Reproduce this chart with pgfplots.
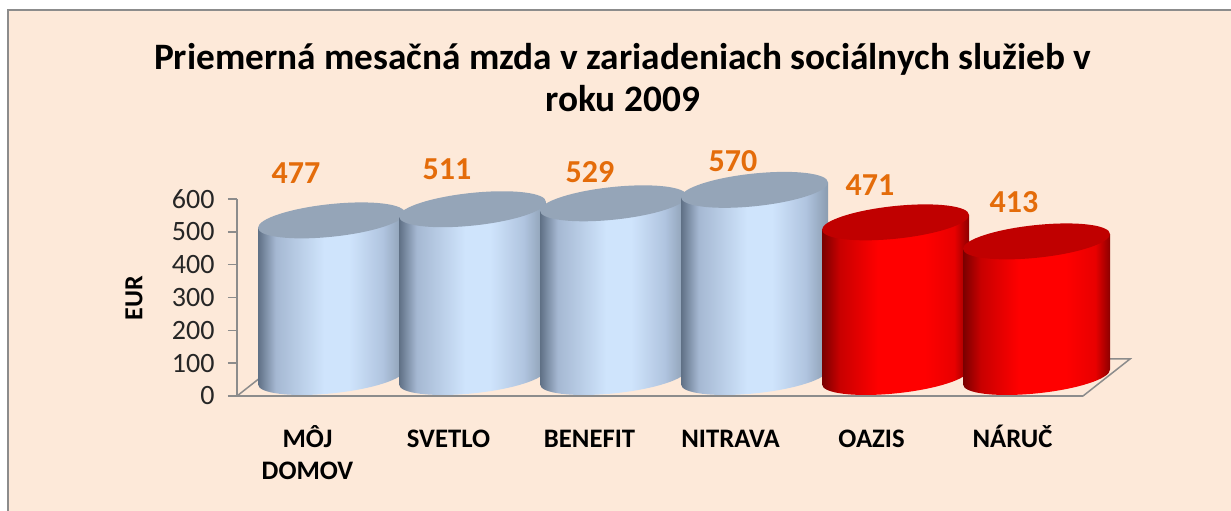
\documentclass[border=0pt]{standalone}
\usepackage{fontspec}
\setmainfont{Carlito}
\usepackage{pgfplots}
\pgfplotsset{compat=1.18}
\definecolor{panel}{HTML}{FDE9D9}
\definecolor{axisgray}{HTML}{8C8C8C}
\definecolor{orangeval}{HTML}{E46C0A}
\definecolor{bluetop}{HTML}{95A5B8}
\definecolor{redtop}{HTML}{C00000}
\definecolor{b0}{HTML}{5F7085}\definecolor{b1}{HTML}{A5B8D2}\definecolor{b2}{HTML}{CFE4FC}\definecolor{b3}{HTML}{B0C4DF}\definecolor{b4}{HTML}{8A9CB0}
\definecolor{r0}{HTML}{7A0000}\definecolor{r1}{HTML}{C80000}\definecolor{r2}{HTML}{FF0000}\definecolor{r3}{HTML}{E80000}\definecolor{r4}{HTML}{8C0000}
\pgfdeclarehorizontalshading{cylblue}{100bp}{color(0bp)=(b0); color(25bp)=(b0); color(31bp)=(b1); color(47.5bp)=(b2); color(56bp)=(b2); color(67.5bp)=(b3); color(75bp)=(b4); color(100bp)=(b4)}
\pgfdeclarehorizontalshading{cylred}{100bp}{color(0bp)=(r0); color(25bp)=(r0); color(31bp)=(r1); color(44bp)=(r2); color(60bp)=(r2); color(70bp)=(r3); color(75bp)=(r4); color(100bp)=(r4)}
% cylinder mark: origin = centre of the top ellipse; height from the point's y value
\newcommand{\defcyl}[3]{%
\pgfdeclareplotmark{#1}{%
  \pgfmathsetmacro{\cylh}{\rawy*0.32833}%
  \pgfpathmoveto{\pgfpoint{-73.5pt}{-7.35pt}}%
  \pgfpathlineto{\pgfpoint{-73.5pt}{-\cylh pt-7.35pt}}%
  \pgfpathcurveto{\pgfpoint{-73.5pt}{-\cylh pt-16.41pt}}{\pgfpoint{-40.6pt}{-\cylh pt-20.46pt}}{\pgfpoint{0pt}{-\cylh pt-16.4pt}}%
  \pgfpathcurveto{\pgfpoint{40.6pt}{-\cylh pt-12.34pt}}{\pgfpoint{73.5pt}{-\cylh pt-1.71pt}}{\pgfpoint{73.5pt}{-\cylh pt+7.35pt}}%
  \pgfpathlineto{\pgfpoint{73.5pt}{7.35pt}}%
  \pgfpathclose
  \pgfshadepath{#2}{0}%
  \pgfusepath{discard}%
  \pgfsetfillcolor{#3}%
  \pgfpathellipse{\pgfpointorigin}{\pgfqpoint{73.5pt}{7.35pt}}{\pgfqpoint{0pt}{16.4pt}}%
  \pgfusepathqfill}}
\defcyl{cylb}{cylblue}{bluetop}
\defcyl{cylr}{cylred}{redtop}
\newcommand{\vallabel}[4]{\node[font=\fontsize{32}{32}\selectfont\bfseries, text=orangeval, xshift=#3pt, yshift=#4pt] at (axis cs:#1,#2) {#2};}
\newcommand{\cl}{\rule{0pt}{24pt}}
\begin{document}
\begin{tikzpicture}
\useasboundingbox (0,0) rectangle (1231pt,511pt);
\fill[white] (0,0) rectangle (1231pt,511pt);
\fill[panel] (8pt,0) rectangle (1231pt,501pt);
\draw[axisgray, line width=2pt] (8pt,0) -- (8pt,501pt) -- (1231pt,501pt);
\begin{axis}[
  at={(237pt,115pt)}, anchor=south west,
  scale only axis, width=846pt, height=197pt,
  xmin=-0.5, xmax=5.5, ymin=0, ymax=600,
  point meta min=0, point meta max=600,
  clip=false,
  axis x line*=bottom, axis y line*=left,
  axis line style={draw=axisgray, line width=1.5pt, -},
  xtick={0,1,2,3,4,5},
  xticklabels={{\cl MÔJ\\DOMOV},\cl SVETLO,\cl BENEFIT,\cl NITRAVA,\cl OAZIS,\cl NÁRUČ},
  ytick={0,100,...,600},
  x tick style={draw=none},
  y tick style={draw=axisgray, line width=1.5pt},
  tick align=outside, major tick length=9pt,
  /pgf/number format/assume math mode=true,
  yticklabel style={font=\fontsize{28}{28}\selectfont, text=black!85, xshift=-10pt},
  xticklabel style={font=\fontsize{26.7}{32}\selectfont\bfseries, align=center, anchor=north, yshift=-15pt},
  title={Priemerná mesačná mzda v zariadeniach sociálnych služieb v\\roku 2009},
  title style={font=\fontsize{37.3}{42}\selectfont\bfseries, align=center, at={(0.456,1)}, anchor=south, yshift=78pt},
  ylabel={EUR},
  every axis y label/.style={at={(rel axis cs:-0.1217,0.497)}, rotate=90, anchor=center, font=\fontsize{26}{26}\selectfont\bfseries},
]
\draw[axisgray, line width=1.5pt] (axis cs:-0.5,0) -- (axis cs:5.5,0) -- ++(47pt,37pt) -- ++(-846pt,0pt) -- cycle;
\addplot[scatter, only marks, scatter src=y, mark=cylb, draw=none, visualization depends on={rawy \as \rawy}, xshift=24pt, yshift=19pt]
  coordinates {(0,477) (1,511) (2,529) (3,570)};
\addplot[scatter, only marks, scatter src=y, mark=cylr, draw=none, visualization depends on={rawy \as \rawy}, xshift=24pt, yshift=19pt]
  coordinates {(4,471) (5,413)};
\vallabel{0}{477}{-11.5}{66.4}
\vallabel{1}{511}{-1.5}{59}
\vallabel{2}{529}{0.5}{50}
\vallabel{3}{570}{2.5}{48}
\vallabel{4}{471}{-1.5}{56}
\vallabel{5}{413}{1.5}{58}
\end{axis}
\end{tikzpicture}
\end{document}
